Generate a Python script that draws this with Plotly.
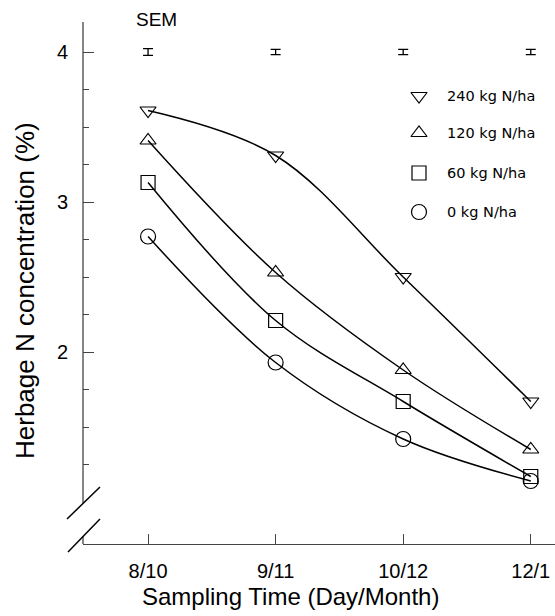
import plotly.graph_objects as go

# ---- data ----
sampling_times = ["8/10", "9/11", "10/12", "12/1"]
x_pos = [0, 1, 2, 3]
n240 = [3.61, 3.31, 2.50, 1.67]
n120 = [3.41, 2.53, 1.88, 1.35]
n60 = [3.13, 2.21, 1.67, 1.17]
n0 = [2.77, 1.93, 1.42, 1.14]
sem = [0.022, 0.018, 0.018, 0.018]
sem_level = [4.0, 4.0, 4.0, 4.0]
legend_labels = ["240 kg N/ha", "120 kg N/ha", "60 kg N/ha", "0 kg N/ha"]
y_major = [2, 3, 4]
y_minor = [1.25, 1.5, 1.75, 2.25, 2.5, 2.75, 3.25, 3.5, 3.75]

series = [
    (n240, "triangle-down-open", 14),
    (n120, "triangle-up-open", 14),
    (n60, "square-open", 14),
    (n0, "circle-open", 15),
]

fig = go.Figure()
for vals, sym, sz in series:
    fig.add_trace(go.Scatter(
        x=x_pos, y=vals, mode="lines+markers",
        line=dict(color="black", width=1.5, shape="spline", smoothing=1.0),
        marker=dict(symbol=sym, size=sz, color="black", line=dict(width=1.2, color="black")),
        showlegend=False, hoverinfo="skip"))

# SEM bars
fig.add_trace(go.Scatter(
    x=x_pos, y=sem_level, mode="markers",
    marker=dict(size=1, color="rgba(0,0,0,0)"),
    error_y=dict(type="data", array=sem, visible=True, color="black", thickness=1.3, width=5),
    showlegend=False, hoverinfo="skip"))

# geometry helpers
X_RANGE = [-0.51, 3.19]
Y_RANGE = [0.72, 4.2]
L, R, T, B = 83, 0, 22, 72
W, H = 555, 616
pw, ph = W - L - R, H - T - B

def px_to_data_x(px):
    return X_RANGE[0] + (px - L) / pw * (X_RANGE[1] - X_RANGE[0])

def py_to_data_y(py):
    return Y_RANGE[1] - (py - T) / ph * (Y_RANGE[1] - Y_RANGE[0])

def px_to_paper_x(px):
    return (px - L) / pw

def py_to_paper_y(py):
    return (H - B - py) / ph

# manual legend
leg_rows_py = [96, 133, 173, 212]
leg_x = px_to_data_x(419)
for (vals, sym, sz), py in zip(series, leg_rows_py):
    fig.add_trace(go.Scatter(
        x=[leg_x], y=[py_to_data_y(py)], mode="markers",
        marker=dict(symbol=sym, size=sz, color="black", line=dict(width=1.2, color="black")),
        showlegend=False, hoverinfo="skip"))

annotations = []
for lab, py in zip(legend_labels, leg_rows_py):
    annotations.append(dict(x=px_to_paper_x(445), y=py_to_paper_y(py), xref="paper", yref="paper",
                            text=lab, showarrow=False, xanchor="left", yanchor="middle",
                            font=dict(family="DejaVu Sans, sans-serif", size=14.5, color="black")))

annotations.append(dict(x=px_to_paper_x(156), y=py_to_paper_y(20), xref="paper", yref="paper",
                        text="SEM", showarrow=False, xanchor="center", yanchor="middle",
                        font=dict(family="Liberation Sans, Arial, sans-serif", size=19, color="black")))
annotations.append(dict(x=px_to_paper_x(25), y=py_to_paper_y(291), xref="paper", yref="paper",
                        text="Herbage N concentration (%)", showarrow=False, textangle=-90,
                        xanchor="center", yanchor="middle",
                        font=dict(family="Liberation Sans, Arial, sans-serif", size=26, color="black")))
annotations.append(dict(x=px_to_paper_x(290), y=py_to_paper_y(596), xref="paper", yref="paper",
                        text="Sampling Time (Day/Month)", showarrow=False,
                        xanchor="center", yanchor="middle",
                        font=dict(family="Liberation Sans, Arial, sans-serif", size=24, color="black")))

axis_col = "#444444"
shapes = [
    dict(type="line", xref="paper", yref="paper", x0=0, x1=0,
         y0=py_to_paper_y(503), y1=1, line=dict(color=axis_col, width=1.3)),
    dict(type="line", xref="paper", yref="paper", x0=0, x1=0,
         y0=0, y1=py_to_paper_y(536), line=dict(color=axis_col, width=1.3)),
    dict(type="line", xref="paper", yref="paper", x0=px_to_paper_x(67), x1=px_to_paper_x(100),
         y0=py_to_paper_y(519), y1=py_to_paper_y(487), line=dict(color="black", width=1.5)),
    dict(type="line", xref="paper", yref="paper", x0=px_to_paper_x(68), x1=px_to_paper_x(100),
         y0=py_to_paper_y(552), y1=py_to_paper_y(519), line=dict(color="black", width=1.5)),
]

fig.update_layout(
    width=W, height=H,
    margin=dict(l=L, r=R, t=T, b=B, pad=0),
    paper_bgcolor="white", plot_bgcolor="white",
    showlegend=False,
    annotations=annotations,
    shapes=shapes,
    xaxis=dict(range=X_RANGE, tickmode="array", tickvals=x_pos, ticktext=sampling_times,
               ticks="inside", ticklen=10, tickwidth=1.2, tickcolor=axis_col,
               showline=True, linecolor=axis_col, linewidth=1.3,
               showgrid=False, zeroline=False, ticklabelstandoff=9,
               tickfont=dict(family="Liberation Sans, Arial, sans-serif", size=20, color="black")),
    yaxis=dict(range=Y_RANGE, tickmode="array", tickvals=y_major, ticktext=[str(v) for v in y_major],
               ticks="inside", ticklen=11, tickwidth=1.2, tickcolor=axis_col,
               showline=False, showgrid=False, zeroline=False, ticklabelstandoff=14,
               minor=dict(tickvals=y_minor, ticks="inside", ticklen=6, tickwidth=1.2, tickcolor=axis_col,
                          showgrid=False),
               tickfont=dict(family="Liberation Sans, Arial, sans-serif", size=20, color="black")),
)

fig.write_html("out.html", config={"displayModeBar": False},
               post_script="document.body.style.margin='0';document.body.style.overflow='hidden';")
